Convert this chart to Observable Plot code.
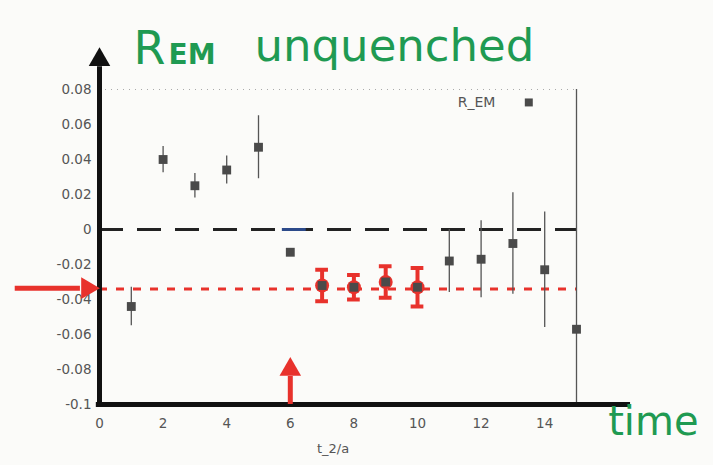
<!DOCTYPE html>
<html><head><meta charset="utf-8">
<script src="https://cdn.jsdelivr.net/npm/d3@7"></script>
<script src="https://cdn.jsdelivr.net/npm/@observablehq/plot@0.6"></script>
<style>
html,body{margin:0;padding:0;background:#fbfbf9;}
#chart svg{display:block;}
</style>
</head><body><div id="chart"></div>
<script>
// t_2/a values
const times = [1, 2, 3, 4, 5, 6, 7, 8, 9, 10, 11, 12, 13, 14, 15];
// R_EM values
const rem = [-0.044, 0.040, 0.025, 0.034, 0.047, -0.013, -0.032, -0.033, -0.030, -0.033, -0.018, -0.017, -0.008, -0.023, -0.057];
// error bars
const errs = [0.011, 0.0075, 0.007, 0.008, 0.018, 0.002, 0.009, 0.007, 0.009, 0.011, 0.018, 0.022, 0.029, 0.033, 0.16];
// plateau fit points (highlighted red)
const fitTimes = [7, 8, 9, 10];
const plateau = -0.034;
const yTicks = [-0.1, -0.08, -0.06, -0.04, -0.02, 0, 0.02, 0.04, 0.06, 0.08];
const xTicks = [0, 2, 4, 6, 8, 10, 12, 14];

const data = times.map((t, i) => ({t, v: rem[i], lo: rem[i] - errs[i], hi: rem[i] + errs[i], fit: fitTimes.includes(t)}));
const fitData = data.filter(d => d.fit);

const green = "#1f9a52";
const red = "#e8322c";
const gray = "#555";

const plot = Plot.plot({
  width: 713,
  height: 465,
  marginLeft: 99,
  marginRight: 137,
  marginTop: 89,
  marginBottom: 61,
  style: {background: "#fbfbf9", fontFamily: "DejaVu Sans, sans-serif", fontSize: "13.5px", color: gray},
  x: {type: "linear", domain: [0, 15], ticks: xTicks, tickSize: 0, tickPadding: 14, label: null},
  y: {type: "linear", domain: [-0.1, 0.08], ticks: yTicks, tickSize: 0, tickPadding: 8, label: null,
      tickFormat: d => d === 0 ? "0" : String(+d.toFixed(2))},
  marks: [
    // faint top frame
    Plot.ruleY([0.08], {stroke: "#aaa", strokeWidth: 1, strokeDasharray: "1,5"}),
    // zero line
    Plot.ruleY([0], {stroke: "#222", strokeWidth: 3, strokeDasharray: "24,14"}),
    Plot.ruleY([0], {x1: 5.75, x2: 6.5, stroke: "#2c4a8a", strokeWidth: 3}),
    // plateau line
    Plot.ruleY([plateau], {stroke: red, strokeWidth: 3, strokeDasharray: "8,9"}),
    // error bars
    Plot.ruleX(data, {x: "t", y1: d => Math.max(d.lo, -0.1), y2: d => Math.min(d.hi, 0.08), stroke: "#555", strokeWidth: 1.3}),
    // red highlighted errors
    Plot.ruleX(fitData, {x: "t", y1: "lo", y2: "hi", stroke: red, strokeWidth: 4}),
    Plot.ruleY(fitData, {y: "lo", x1: d => d.t - 0.2, x2: d => d.t + 0.2, stroke: red, strokeWidth: 4}),
    Plot.ruleY(fitData, {y: "hi", x1: d => d.t - 0.2, x2: d => d.t + 0.2, stroke: red, strokeWidth: 4}),
    Plot.dot(fitData, {x: "t", y: "v", r: 7, fill: red}),
    // data markers
    Plot.dot(data, {x: "t", y: "v", symbol: "square", r: 5, fill: "#4a4a4a"}),
    // legend
    Plot.text(["R_EM"], {x: 12.45, y: 0.0726, textAnchor: "end", fill: gray, fontSize: 14}),
    Plot.dot(["R_EM"], {x: 13.5, y: 0.0726, symbol: "square", r: 4.5, fill: "#4a4a4a"}),
    // hand drawn axes
    Plot.ruleX(["axis"], {x: 0, y1: -0.101, y2: 0.093, stroke: "#111", strokeWidth: 5}),
    Plot.dot(["axis"], {x: 0, y: 0.097, symbol: "triangle", r: 8, fill: "#111"}),
    Plot.ruleY(["axis"], {y: -0.1, x1: -0.1, x2: 16.7, stroke: "#111", strokeWidth: 5}),
    // red arrows
    Plot.ruleY(["a"], {y: plateau + 0.0005, x1: -2.65, x2: -0.6, stroke: red, strokeWidth: 5}),
    Plot.dot(["a"], {x: -0.38, y: plateau + 0.0005, symbol: "triangle", rotate: 90, r: 8, fill: red}),
    Plot.ruleX(["b"], {x: 6, y1: -0.1, y2: -0.084, stroke: red, strokeWidth: 5}),
    Plot.dot(["b"], {x: 6, y: -0.08, symbol: "triangle", r: 8, fill: red}),
    // x label
    Plot.text(["t_2/a"], {frameAnchor: "bottom", dx: -5, dy: 48, fill: gray, fontSize: 13}),
    // handwritten title
    Plot.text(["R"], {frameAnchor: "top-left", dx: 34, dy: -58, textAnchor: "start", fill: green, fontSize: 46, fontFamily: "DejaVu Sans, sans-serif"}),
    Plot.text(["EM"], {frameAnchor: "top-left", dx: 69, dy: -45, textAnchor: "start", fill: green, fontSize: 28, fontWeight: "bold", fontFamily: "DejaVu Sans, sans-serif"}),
    Plot.text(["unquenched"], {frameAnchor: "top-left", dx: 155, dy: -60, textAnchor: "start", fill: green, fontSize: 45, fontFamily: "DejaVu Sans, sans-serif"}),
    Plot.text(["time"], {frameAnchor: "bottom-right", dx: 122, dy: 30, textAnchor: "end", fill: green, fontSize: 40, fontFamily: "DejaVu Sans, sans-serif"})
  ]
});
document.getElementById("chart").appendChild(plot);
</script>
</body></html>
